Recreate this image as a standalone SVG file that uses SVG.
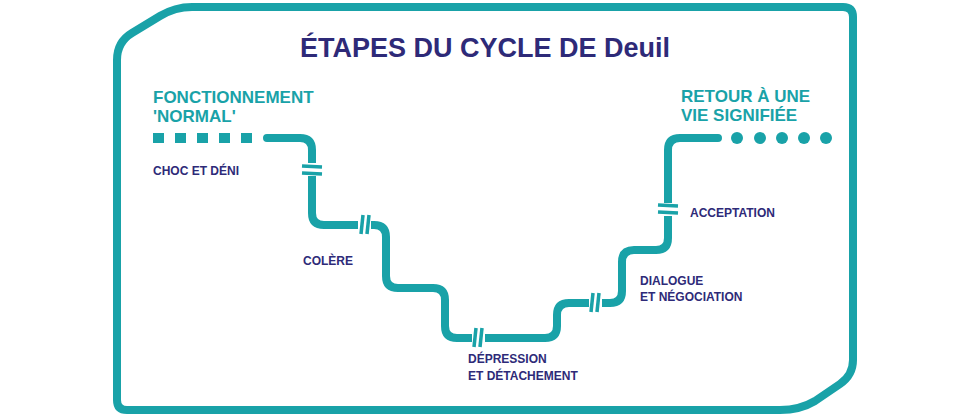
<svg xmlns="http://www.w3.org/2000/svg" width="970" height="416" viewBox="0 0 970 416">
<style>
.t{font-family:"Liberation Sans",Arial,sans-serif;font-weight:bold}
.lab{fill:#2e2a78;font-size:12px}
.big{fill:#19a2a8;font-size:17px}
.ln{fill:none;stroke:#19a2a8;stroke-width:8;stroke-linecap:round}
.bar{stroke:#19a2a8;stroke-width:3.5}
</style>
<rect width="970" height="416" fill="#fff"/>
<path d="M117,60 Q117,42 132,33 L160,16 Q175,7 192,7 H843 Q853,7 853,17 V360 Q853,375 840,384 L815,401 Q800,410 780,410 H127 Q117,410 117,400 Z" fill="none" stroke="#19a2a8" stroke-width="8" stroke-linejoin="round"/>
<text class="t" x="485" y="57" text-anchor="middle" font-size="27" fill="#2e2a78">ÉTAPES DU CYCLE DE Deuil</text>
<g id="squares" fill="#19a2a8">
<rect x="153" y="133" width="11" height="10"/><rect x="175" y="133" width="11" height="10"/><rect x="197" y="133" width="11" height="10"/><rect x="219" y="133" width="11" height="10"/><rect x="241" y="133" width="11" height="10"/>
</g>
<g id="dots" fill="#19a2a8">
<circle cx="737" cy="138" r="6"/><circle cx="760" cy="138" r="6"/><circle cx="782" cy="138" r="6"/><circle cx="804" cy="138" r="6"/><circle cx="826" cy="138" r="6"/>
</g>
<g id="connectors">
<path class="ln" d="M267,138 H300 Q312,138 312,150 V213 Q312,225 324,225 H374 Q386,225 386,237 V276 Q386,288 398,288 H433 Q445,288 445,300 V326 Q445,338 457,338 H545 Q557,338 557,326 V315 Q557,303 569,303 H610 Q622,303 622,291 V262 Q622,250 634,250 H656 Q668,250 668,238 V150 Q668,138 680,138 H718"/>
<rect x="304" y="163" width="16" height="13" fill="#fff"/>
<line class="bar" x1="302" y1="166" x2="322" y2="167"/><line class="bar" x1="302" y1="173" x2="322" y2="174"/>
<rect x="358" y="217" width="13" height="16" fill="#fff"/>
<line class="bar" x1="361" y1="234" x2="363" y2="215"/><line class="bar" x1="367" y1="234" x2="369" y2="215"/>
<rect x="472" y="330" width="13" height="16" fill="#fff"/>
<line class="bar" x1="474" y1="347" x2="476" y2="328"/><line class="bar" x1="480" y1="347" x2="482" y2="328"/>
<rect x="589" y="295" width="13" height="16" fill="#fff"/>
<line class="bar" x1="591" y1="312" x2="593" y2="293"/><line class="bar" x1="597" y1="312" x2="599" y2="293"/>
<rect x="660" y="203" width="16" height="13" fill="#fff"/>
<line class="bar" x1="658" y1="205" x2="678" y2="206"/><line class="bar" x1="658" y1="212" x2="678" y2="213"/>
</g>
<g id="start"><text class="t big" x="153" y="103">FONCTIONNEMENT</text><text class="t big" x="153" y="122">'NORMAL'</text></g>
<g id="end"><text class="t big" x="681" y="102">RETOUR À UNE</text><text class="t big" x="681" y="121">VIE SIGNIFIÉE</text></g>
<g id="choc"><text class="t lab" x="153" y="175">CHOC ET DÉNI</text></g>
<g id="colere"><text class="t lab" x="303" y="265">COLÈRE</text></g>
<g id="depression"><text class="t lab" x="468" y="363">DÉPRESSION</text><text class="t lab" x="468" y="380">ET DÉTACHEMENT</text></g>
<g id="dialogue"><text class="t lab" x="640" y="285">DIALOGUE</text><text class="t lab" x="640" y="301">ET NÉGOCIATION</text></g>
<g id="acceptation"><text class="t lab" x="690" y="217">ACCEPTATION</text></g>
</svg>
